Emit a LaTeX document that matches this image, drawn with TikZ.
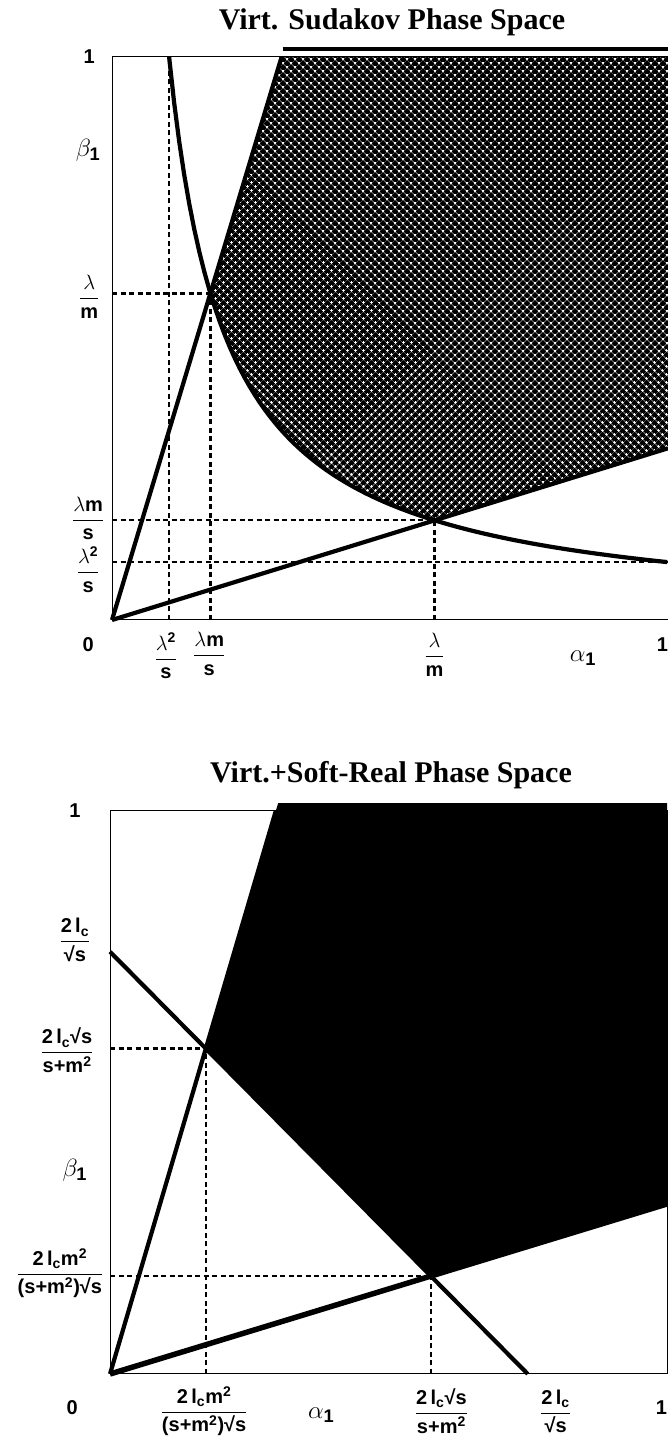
\documentclass[tikz,border=0pt]{standalone}
\usepackage{amsmath}
\usepackage{fontspec}
\setmainfont{Liberation Sans}
\newfontfamily\titlefont{Liberation Serif}
\usepackage{tikz}
\usetikzlibrary{patterns.meta,calc}
\tikzset{
  frameline/.style={line width=1pt},
  boundary/.style={line width=4.2pt,line join=round},
  guide/.style={line width=2.2pt,dash pattern=on 5pt off 3.5pt},
  ticklbl/.style={font=\fontsize{20}{24}\selectfont\bfseries,inner sep=1pt},
  axislbl/.style={font=\fontsize{26}{30}\selectfont},
  paneltitle/.style={font=\titlefont\fontsize{30}{34}\selectfont\bfseries},
  crosshatch/.style={pattern={Lines[angle=45,distance=5.4pt,line width=3.6pt]},
    postaction={pattern={Lines[angle=-45,distance=5.4pt,line width=3.6pt]}}}
}
\newcommand{\twolc}{\textbf{2\,l}_{\textbf{c}}}
\newcommand{\rts}{\textbf{\symbol{"221A}s}}
\newcommand{\spm}{\textbf{s+m}^{\textbf{2}}}

\begin{document}
\begin{tikzpicture}[x=1pt,y=1pt]
  \useasboundingbox (0,0) rectangle (668,1441);
  \clip (0,0) rectangle (668,1441);

  % upper panel: virtual Sudakov region
  \node[paneltitle] (ttitle) at (392,1419) {Virt. Sudakov Phase Space};
  \begin{scope}[shift={(112,821)},x=556pt,y=563pt]
    \coordinate (O) at (0,0);
    \coordinate (A) at (0.177,0.58);
    \coordinate (B) at (0.58,0.177);
    \coordinate (T) at (0.305,1);
    \coordinate (R) at (1,0.305);
    \path[crosshatch] (T) -- (A)
      -- plot[domain=0.177:0.58,samples=40] (\x,{0.1027/\x})
      -- (B) -- (R) -- (1,1) -- cycle;
    \draw[line width=3.5pt] (0.307,1.014) -- (1,1.014);
    \draw[frameline] (0,0) rectangle (1,1);
    % guide lines
    \draw[guide] (O|-A) -- (A);
    \draw[guide] (A|-O) -- (A);
    \draw[guide] (O|-B) -- (B);
    \draw[guide] (B|-O) -- (B);
    \draw[guide] (0.1027,0) -- (0.1027,1);
    \draw[guide] (0,0.1027) -- (1,0.1027);
    % boundaries
    \draw[boundary] (O) -- (T);
    \draw[boundary] (O) -- (R);
    \draw[boundary] plot[domain=0.1027:1,samples=100] (\x,{0.1027/\x});
    % ticks
    \node[ticklbl] (ty1) at (-0.041,1) {1};
    \node[axislbl] (tbeta) at (-0.043,0.835) {$\beta_{\textbf{1}}$};
    \node[ticklbl] (tya) at (-0.041,0.574) {$\dfrac{\lambda}{\textbf{m}}$};
    \node[ticklbl] (tyb) at (-0.043,0.18) {$\dfrac{\lambda\textbf{m}}{\textbf{s}}$};
    \node[ticklbl] (tyc) at (-0.043,0.09) {$\dfrac{\lambda^{\textbf{2}}}{\textbf{s}}$};
    \node[ticklbl] (ty0) at (-0.043,-0.044) {0};
    \node[ticklbl] (txc) at (0.097,-0.064) {$\dfrac{\lambda^{\textbf{2}}}{\textbf{s}}$};
    \node[ticklbl] (txb) at (0.175,-0.06) {$\dfrac{\lambda\textbf{m}}{\textbf{s}}$};
    \node[ticklbl] (txa) at (0.58,-0.062) {$\dfrac{\lambda}{\textbf{m}}$};
    \node[axislbl] (talpha) at (0.847,-0.067) {$\alpha_{\textbf{1}}$};
    \node[ticklbl] (tx1) at (0.99,-0.044) {1};
  \end{scope}

  % lower panel: virtual plus soft-real region
  \node[paneltitle] (btitle) at (391,666) {Virt.+Soft-Real Phase Space};
  \begin{scope}[shift={(110,67)},x=557pt,y=563pt]
    \coordinate (O) at (0,0);
    \coordinate (P) at (0.172,0.578);
    \coordinate (Q) at (0.576,0.174);
    \coordinate (T) at (0.2976,1);
    \coordinate (R) at (1,0.302);
    \coordinate (L) at (0,0.75);
    \coordinate (D) at (0.75,0);
    \fill (0.302,1.014) -- (T) -- (P) -- (Q) -- (R) -- (1,1.014) -- cycle;
    \draw[frameline] (0,0) rectangle (1,1);
    % guide lines
    \draw[guide] (O|-P) -- (P);
    \draw[guide] (P|-O) -- (P);
    \draw[guide] (O|-Q) -- (Q);
    \draw[guide] (Q|-O) -- (Q);
    % boundaries
    \draw[boundary] (O) -- (T);
    \draw[boundary,line width=5.5pt] (O) -- (R);
    \draw[boundary] (L) -- (D);
    % ticks
    \node[ticklbl] (by1) at (-0.063,1) {1};
    \node[ticklbl] (byl) at (-0.063,0.771) {$\dfrac{\twolc}{\rts}$};
    \node[ticklbl] (byp) at (-0.077,0.575) {$\dfrac{\twolc\rts}{\spm}$};
    \node[axislbl] (bbeta) at (-0.063,0.362) {$\beta_{\textbf{1}}$};
    \node[ticklbl] (byq) at (-0.09,0.179) {$\dfrac{\twolc\textbf{m}^{\textbf{2}}}{\textbf{(}\spm\textbf{)}\rts}$};
    \node[ticklbl] (by0) at (-0.068,-0.059) {0};
    \node[ticklbl] (bxq) at (0.169,-0.066) {$\dfrac{\twolc\textbf{m}^{\textbf{2}}}{\textbf{(}\spm\textbf{)}\rts}$};
    \node[axislbl] (balpha) at (0.379,-0.073) {$\alpha_{\textbf{1}}$};
    \node[ticklbl] (bxp) at (0.595,-0.066) {$\dfrac{\twolc\rts}{\spm}$};
    \node[ticklbl] (bxl) at (0.80,-0.066) {$\dfrac{\twolc}{\rts}$};
    \node[ticklbl] (bx1) at (0.99,-0.059) {1};
  \end{scope}
\end{tikzpicture}
\end{document}
